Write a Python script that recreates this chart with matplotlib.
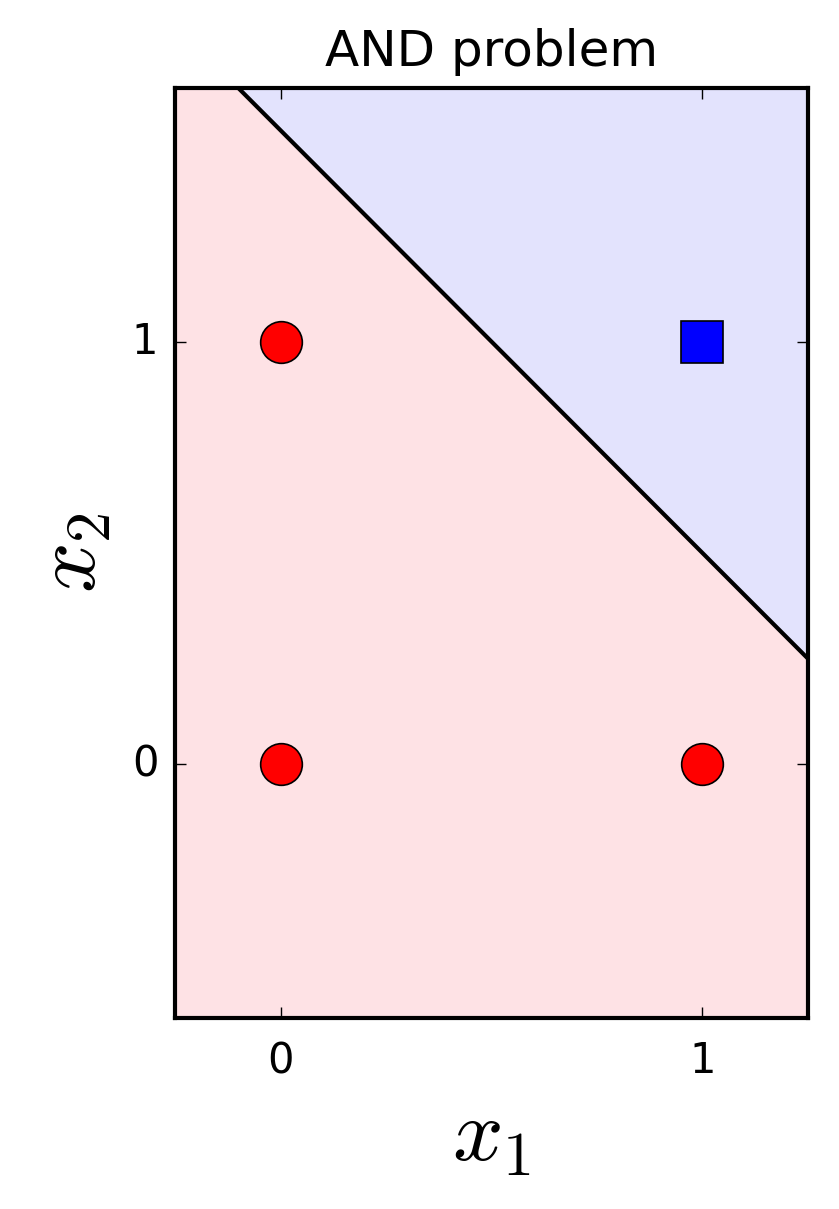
import numpy as np
import matplotlib
matplotlib.use("Agg")
import matplotlib.pyplot as plt

plt.style.use('classic')

# data
x1_vals = [0, 0, 1, 1]
x2_vals = [0, 1, 0, 1]
labels = [0, 0, 0, 1]
weights = [1.0, 1.0]
bias = -1.5
xlim = (-0.25, 1.25)
ylim = (-0.6, 1.6)
ticks = [0, 1]

fig = plt.figure(figsize=(8.39 / 2, 12.09 / 2), dpi=200)
ax = fig.add_axes([175 / 839, 1 - 1018 / 1209, (808 - 175) / 839, (1018 - 88) / 1209])

gx, gy = np.meshgrid(np.linspace(xlim[0], xlim[1], 600), np.linspace(ylim[0], ylim[1], 600))
z = weights[0] * gx + weights[1] * gy + bias
ax.contourf(gx, gy, z, levels=[-10, 0, 10], colors=['#fee2e5', '#e3e3fd'])
ax.contour(gx, gy, z, levels=[0], colors='k', linewidths=1.5)

for a, b, l in zip(x1_vals, x2_vals, labels):
    if l == 0:
        ax.plot(a, b, 'o', color='red', markersize=15, markeredgecolor='k', markeredgewidth=0.6)
    else:
        ax.plot(a, b, 's', color='blue', markersize=15, markeredgecolor='k', markeredgewidth=0.6)

for s in ax.spines.values():
    s.set_linewidth(1.5)

ax.set_xlim(*xlim)
ax.set_ylim(*ylim)
ax.set_xticks(ticks)
ax.set_yticks(ticks)
ax.tick_params(labelsize=15)
ax.tick_params(axis='y', pad=6)
ax.tick_params(axis='x', pad=8)
ax.set_title('AND problem', fontsize=18, pad=8)
ax.set_xlabel(r'$x_1$', fontsize=32, labelpad=4)
ax.set_ylabel(r'$x_2$', fontsize=32, labelpad=6)

fig.savefig('out.png', dpi=200)
